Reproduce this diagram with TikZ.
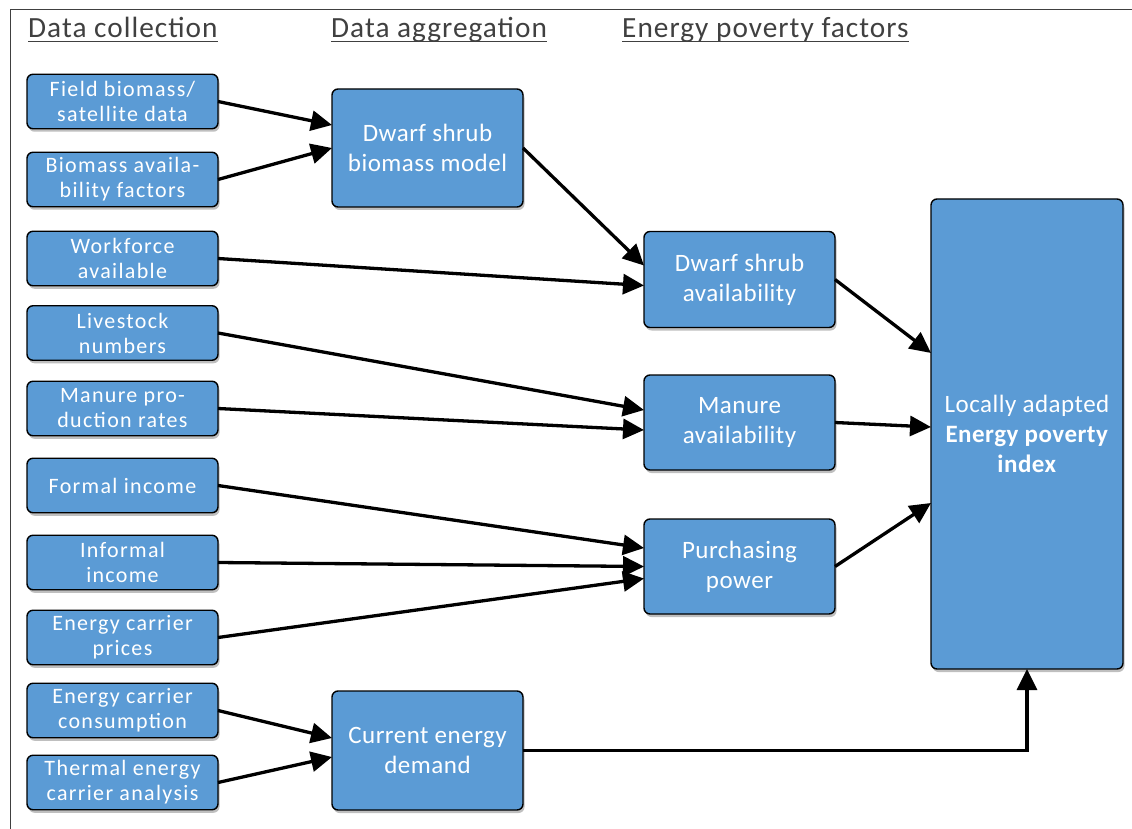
\documentclass[tikz,border=0pt]{standalone}
\usepackage{fontspec}
\setmainfont{Carlito}
\newfontfamily\smallboxfont[LetterSpace=6]{Carlito}
\newfontfamily\bigboxfont[LetterSpace=2]{Carlito}
\newfontfamily\headfont[LetterSpace=3.5]{Carlito}
\usetikzlibrary{arrows.meta,shadows}
\definecolor{boxblue}{HTML}{5B9BD5}
\definecolor{headgray}{HTML}{404040}
\tikzset{
  box/.style={draw=black, line width=1.4pt, fill=boxblue, rounded corners=6pt,
    text=white, align=center, inner sep=0pt, outer sep=0pt,
    drop shadow={shadow xshift=1.5pt, shadow yshift=-3pt, opacity=0.25, fill=black}},
  smallbox/.style={box, minimum width=191pt, minimum height=54.5pt,
    font=\smallboxfont\fontsize{22}{25}\selectfont},
  bigbox/.style={box, minimum width=191pt, font=\bigboxfont\fontsize{25}{30}\selectfont},
  head/.style={anchor=base west, inner sep=0pt, text=headgray,
    font=\headfont\fontsize{29.3}{30}\selectfont},
  uline/.style={draw=headgray, line width=1.5pt},
  conn/.style={draw=black, line width=3.3pt, -{Triangle[length=21pt,width=20pt]}},
  frame/.style={draw=headgray, line width=1pt}
}
\begin{document}
\begin{tikzpicture}[x=1pt,y=-1pt]
\useasboundingbox (0,0) rectangle (1132,829);
\draw[frame] (10,829) -- (10,10) -- (1132,10);

% headers
\node[head] (h1) at (28,38) {Data collection};
\node[head] (h2) at (331,38) {Data aggregation};
\node[head] (h3) at (622,38) {Energy poverty factors};
\foreach \h in {h1,h2,h3}{
  \draw[uline] ([yshift=-3.5pt]\h.base west) -- ([yshift=-3.5pt]\h.base east);
}

% left column
\node[smallbox] (fb)  at (122.5,101.5) {Field biomass/\\satellite data};
\node[smallbox] (ba)  at (122.5,179.5) {Biomass availa-\\bility factors};
\node[smallbox] (wf)  at (122.5,258.5) {Workforce\\available};
\node[smallbox] (ls)  at (122.5,333) {Livestock\\numbers};
\node[smallbox] (mp)  at (122.5,408.5) {Manure pro-\\duction rates};
\node[smallbox] (fi)  at (122.5,485.5) {Formal income};
\node[smallbox] (ii)  at (122.5,562.5) {Informal\\income};
\node[smallbox] (ecp) at (122.5,637.5) {Energy carrier\\prices};
\node[smallbox] (ecc) at (122.5,710.5) {Energy carrier\\consumption};
\node[smallbox] (te)  at (122.5,782.5) {Thermal energy\\carrier analysis};

% middle column
\node[bigbox, minimum height=118pt] (dsbm) at (427.5,148) {Dwarf shrub\\biomass model};
\node[bigbox, minimum height=119pt] (ced)  at (427.5,750.5) {Current energy\\demand};

% factors
\node[bigbox, minimum height=96pt] (dsa) at (739.5,279.5) {Dwarf shrub\\availability};
\node[bigbox, minimum height=95pt] (ma)  at (739.5,422.5) {Manure\\availability};
\node[bigbox, minimum height=95pt] (pp)  at (739.5,566.5) {Purchasing\\power};

% index
\node[bigbox, minimum width=192pt, minimum height=470pt] (epi) at (1027,434)
  {Locally adapted\\\textbf{Energy poverty}\\\textbf{index}};

% connectors
\draw[conn] (fb.east) -- ([yshift=23pt]dsbm.west);
\draw[conn] (ba.east) -- (dsbm.west);
\draw[conn] (dsbm.east) -- ([yshift=14pt]dsa.west);
\draw[conn] (wf.east) -- ([yshift=-6pt]dsa.west);
\draw[conn] (ls.east) -- ([yshift=12.5pt]ma.west);
\draw[conn] (mp.east) -- ([yshift=-7.5pt]ma.west);
\draw[conn] (fi.east) -- ([yshift=18.5pt]pp.west);
\draw[conn] (ii.east) -- ([yshift=0pt]pp.west);
\draw[conn] (ecp.east) -- ([yshift=-12pt]pp.west);
\draw[conn] (ecc.east) -- ([yshift=12.5pt]ced.west);
\draw[conn] (te.east) -- ([yshift=-6.5pt]ced.west);
\draw[conn] (dsa.east) -- ([yshift=81pt]epi.west);
\draw[conn] (ma.east) -- ([yshift=7pt]epi.west);
\draw[conn] (pp.east) -- ([yshift=-69pt]epi.west);
\draw[conn] (ced.east) -| (epi.south);
\end{tikzpicture}
\end{document}
